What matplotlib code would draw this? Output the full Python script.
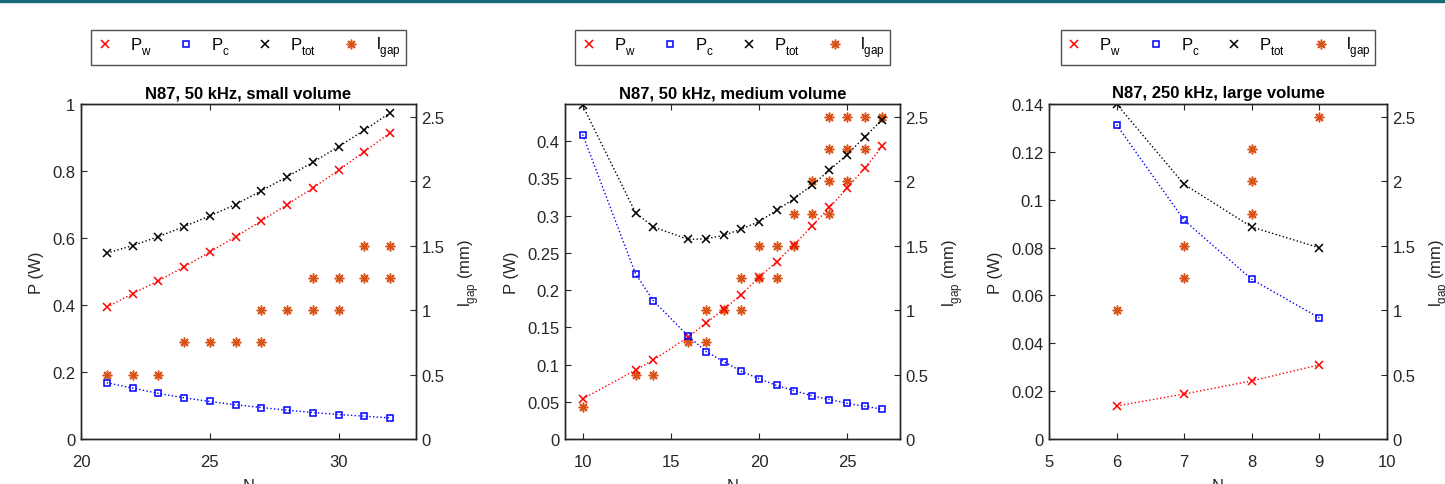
import matplotlib
matplotlib.use('Agg')
import matplotlib.pyplot as plt
from matplotlib.patches import Rectangle
from matplotlib.ticker import FuncFormatter

plt.rcParams['font.family'] = ['Liberation Sans', 'DejaVu Sans']
plt.rcParams['mathtext.fontset'] = 'custom'
plt.rcParams['mathtext.rm'] = 'Liberation Sans'
plt.rcParams['mathtext.it'] = 'Liberation Sans'
plt.rcParams['mathtext.default'] = 'regular'

# matlab drops subscripts lower than mathtext does
try:
    import matplotlib._mathtext as _mt
    _mt.FontConstantsBase.sub1 = 0.6
    _mt.FontConstantsBase.sub2 = 0.7
except Exception:
    pass

# panel 1: N87, 50 kHz, small volume
n1 = [21, 22, 23, 24, 25, 26, 27, 28, 29, 30, 31, 32]
pw1 = [0.393, 0.434, 0.472, 0.514, 0.558, 0.604, 0.651, 0.700, 0.749, 0.803, 0.858, 0.914]
pc1 = [0.168, 0.152, 0.136, 0.123, 0.112, 0.102, 0.094, 0.086, 0.079, 0.073, 0.068, 0.063]
ptot1 = [0.555, 0.577, 0.604, 0.634, 0.666, 0.700, 0.741, 0.783, 0.826, 0.873, 0.922, 0.974]
gap_n1 = [21, 22, 23, 24, 25, 26, 27, 27, 28, 29, 29, 30, 30, 31, 31, 32, 32]
gap_v1 = [0.5, 0.5, 0.5, 0.75, 0.75, 0.75, 0.75, 1.0, 1.0, 1.0, 1.25, 1.0, 1.25, 1.25, 1.5, 1.25, 1.5]

# panel 2: N87, 50 kHz, medium volume
n2 = [10, 13, 14, 16, 17, 18, 19, 20, 21, 22, 23, 24, 25, 26, 27]
pw2 = [0.054, 0.0925, 0.106, 0.137, 0.156, 0.174, 0.194, 0.217, 0.238, 0.261, 0.286, 0.311, 0.337, 0.364, 0.393]
pc2 = [0.409, 0.222, 0.186, 0.138, 0.1175, 0.104, 0.091, 0.081, 0.072, 0.065, 0.058, 0.053, 0.048, 0.044, 0.040]
ptot2 = [0.448, 0.304, 0.285, 0.268, 0.269, 0.2735, 0.282, 0.292, 0.307, 0.323, 0.341, 0.361, 0.382, 0.406, 0.429]
gap_n2 = [10, 13, 14, 16, 17, 17, 18, 19, 19, 20, 20, 21, 21, 22, 22, 23, 23,
          24, 24, 24, 24, 25, 25, 25, 26, 26, 27]
gap_v2 = [0.25, 0.5, 0.5, 0.75, 0.75, 1.0, 1.0, 1.0, 1.25, 1.25, 1.5, 1.25, 1.5, 1.5, 1.75, 1.75, 2.0,
          1.75, 2.0, 2.25, 2.5, 2.0, 2.25, 2.5, 2.25, 2.5, 2.5]

# panel 3: N87, 250 kHz, large volume
n3 = [6, 7, 8, 9]
pw3 = [0.0138, 0.0188, 0.0243, 0.031]
pc3 = [0.1313, 0.0914, 0.0667, 0.0506]
ptot3 = [0.140, 0.1064, 0.0886, 0.0799]
gap_n3 = [6, 7, 7, 8, 8, 8, 9]
gap_v3 = [1.0, 1.25, 1.5, 1.75, 2.0, 2.25, 2.5]

titles = ['N87, 50 kHz, small volume', 'N87, 50 kHz, medium volume', 'N87, 250 kHz, large volume']
xlims = [(20, 33), (9, 28), (5, 10)]
xticks = [[20, 25, 30], [10, 15, 20, 25], [5, 6, 7, 8, 9, 10]]
ylims = [(0, 1), (0, 0.45), (0, 0.14)]
yticks = [[0, 0.2, 0.4, 0.6, 0.8, 1.0],
          [0, 0.05, 0.1, 0.15, 0.2, 0.25, 0.3, 0.35, 0.4],
          [0, 0.02, 0.04, 0.06, 0.08, 0.1, 0.12, 0.14]]
gap_ticks = [0, 0.5, 1, 1.5, 2, 2.5]

panels = [(n1, pw1, pc1, ptot1, gap_n1, gap_v1),
          (n2, pw2, pc2, ptot2, gap_n2, gap_v2),
          (n3, pw3, pc3, ptot3, gap_n3, gap_v3)]

axcol = '#262626'
orange = '#D95319'
fmt = FuncFormatter(lambda v, p: '%g' % round(v, 4))

fig = plt.figure(figsize=(14.45, 4.85), dpi=100)
fig.patches.append(Rectangle((0, 1 - 3 / 485), 1, 3 / 485, transform=fig.transFigure,
                             color='#17697a', zorder=10))

lefts = [81 / 1445, 565 / 1445, 1049 / 1445]
widths = [335 / 1445, 335 / 1445, 338 / 1445]
for i, (n, pw, pc, ptot, gn, gv) in enumerate(panels):
    ax = fig.add_axes([lefts[i], 1 - 440 / 485, widths[i], 335 / 485])
    ax2 = ax.twinx()
    ax.set_zorder(ax2.get_zorder() + 1)
    ax.patch.set_visible(False)

    ax.plot(n, pw, ':', color='red', lw=1)
    ax.plot(n, pc, ':', color='blue', lw=1)
    ax.plot(n, ptot, ':', color='black', lw=1)
    h1, = ax.plot(n, pw, 'x', color='red', ms=5.5, mew=1.1, ls='none', label=r'$P_w$')
    h2, = ax.plot(n, pc, 's', color='blue', mfc='none', ms=5, mew=1.1, ls='none', label=r'$P_c$')
    h3, = ax.plot(n, ptot, 'x', color='black', ms=5.5, mew=1.1, ls='none', label=r'$P_{tot}$')
    h4, = ax2.plot(gn, gv, marker=(8, 2, 0), color=orange, ms=7, mew=1.1, ls='none', label=r'$l_{gap}$')

    ax.set_xlim(*xlims[i])
    ax.set_xticks(xticks[i])
    ax.set_ylim(*ylims[i])
    ax.set_yticks(yticks[i])
    ax2.set_ylim(0, 2.6)
    ax2.set_yticks(gap_ticks)
    for a in (ax, ax2):
        a.yaxis.set_major_formatter(fmt)
        a.tick_params(direction='in', colors=axcol, labelsize=12, length=4, width=0.8, pad=4)
        for s in a.spines.values():
            s.set_color(axcol)
            s.set_linewidth(1.0)
    ax.xaxis.set_major_formatter(fmt)
    ax.tick_params(axis='x', top=True, pad=11)
    ax.set_xlabel('N', fontsize=12, color=axcol, labelpad=6)
    ax.set_ylabel('P (W)', fontsize=12, color=axcol, labelpad=6)
    ax2.set_ylabel(r'$l_{gap}$ (mm)', fontsize=12, color=axcol, labelpad=9)
    ax.set_title(titles[i], fontsize=12, fontweight='bold', color='black', pad=5)

    leg = ax.legend(handles=[h1, h2, h3, h4], loc='center', bbox_to_anchor=(0.5, 1.168),
                    ncol=4, frameon=True, fancybox=False, fontsize=12,
                    handlelength=1.0, handletextpad=1.0, columnspacing=1.6,
                    borderpad=0.3, edgecolor=axcol)
    leg.get_frame().set_linewidth(1.0)

fig.savefig('out.png', dpi=100)
